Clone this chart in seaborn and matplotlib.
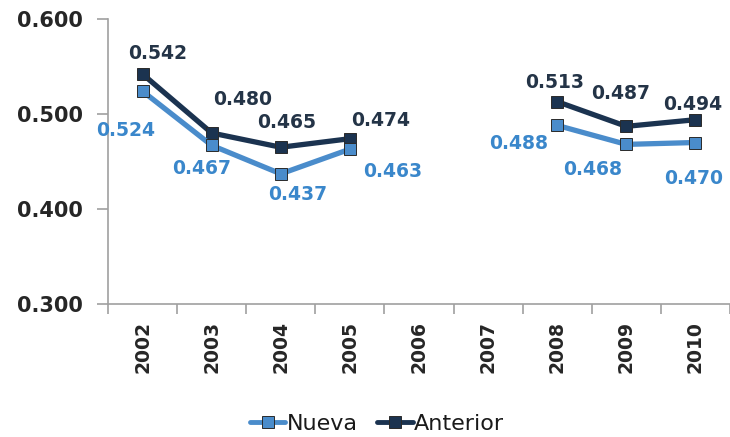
import numpy as np
import pandas as pd
import matplotlib
matplotlib.use("Agg")
import matplotlib.pyplot as plt
from matplotlib.lines import Line2D
import seaborn as sns

# datos
anios = ["2002", "2003", "2004", "2005", "2006", "2007", "2008", "2009", "2010"]
nueva = [0.524, 0.467, 0.437, 0.463, np.nan, np.nan, 0.488, 0.468, 0.470]
anterior = [0.542, 0.480, 0.465, 0.474, np.nan, np.nan, 0.513, 0.487, 0.494]
tramo = [0, 0, 0, 0, 0, 0, 1, 1, 1]

c_nueva = "#4A8CCB"
c_anterior = "#1B3350"
c_lbl_nueva = "#3A87CB"
c_lbl_anterior = "#243447"

filas = []
for i, a in enumerate(anios):
    filas.append({"pos": i, "valor": anterior[i], "serie": "Anterior", "tramo": tramo[i]})
    filas.append({"pos": i, "valor": nueva[i], "serie": "Nueva", "tramo": tramo[i]})
df = pd.DataFrame(filas).dropna()

sns.set_style("white")
plt.rcParams["font.family"] = ["DejaVu Sans"]

fig = plt.figure(figsize=(7.3, 4.37), dpi=100)
ax = fig.add_axes([108 / 730, 1 - 304 / 437, (730 - 108) / 730, (304 - 19) / 437])

sns.lineplot(data=df, x="pos", y="valor", hue="serie", units="tramo", estimator=None,
             palette={"Nueva": c_nueva, "Anterior": c_anterior},
             hue_order=["Anterior", "Nueva"], marker="s", markersize=8,
             markeredgecolor="#2a2a2a", markeredgewidth=0.7,
             linewidth=3.8, legend=False, ax=ax, zorder=3)

# etiquetas de datos (desplazamiento en puntos)
off_ant = [(11, 15), (22, 24), (4, 18), (22, 13), None, None, (-2, 14), (-4, 24), (-2, 11)]
off_nue = [(-12, -28), (-7, -17), (12, -15), (31, -16), None, None, (-28, -13), (-24, -18), (-1, -26)]
for i in range(len(anios)):
    if not np.isnan(anterior[i]):
        ax.annotate(f"{anterior[i]:.3f}", (i, anterior[i]), xytext=off_ant[i],
                    textcoords="offset points", ha="center", va="center",
                    fontsize=13.5, fontweight="bold", color=c_lbl_anterior)
    if not np.isnan(nueva[i]):
        ax.annotate(f"{nueva[i]:.3f}", (i, nueva[i]), xytext=off_nue[i],
                    textcoords="offset points", ha="center", va="center",
                    fontsize=13.5, fontweight="bold", color=c_lbl_nueva)

ax.set_ylim(0.3, 0.6)
ax.set_yticks([0.3, 0.4, 0.5, 0.6])
ax.set_yticklabels(["0.300", "0.400", "0.500", "0.600"], fontsize=15, fontweight="bold",
                   color="#262626")
ax.set_xlim(-0.5, 8.46)
ax.set_xticks(range(len(anios)))
ax.set_xticklabels(anios, rotation=90, fontsize=13.5, fontweight="bold", color="#262626")
ax.set_xticks(np.arange(-0.5, 9, 1.0), minor=True)
ax.tick_params(axis="x", which="major", bottom=True, length=0, pad=12)
ax.tick_params(axis="x", which="minor", bottom=True, length=7, color="#A0A0A0", width=1.2)
ax.tick_params(axis="y", left=True, length=8, color="#A0A0A0", width=1.2, pad=10)
ax.set_xlabel("")
ax.set_ylabel("")

sns.despine(ax=ax)
for s in ["left", "bottom"]:
    ax.spines[s].set_color("#A0A0A0")
    ax.spines[s].set_linewidth(1.2)

handles = [Line2D([], [], color=c_nueva, marker="s", markersize=8, linewidth=3.5,
                  markeredgecolor="#2a2a2a", markeredgewidth=0.7),
           Line2D([], [], color=c_anterior, marker="s", markersize=8, linewidth=3.5,
                  markeredgecolor="#2a2a2a", markeredgewidth=0.7)]
fig.legend(handles, ["Nueva", "Anterior"], loc="center", bbox_to_anchor=(377 / 730, 1 - 424 / 437),
           ncol=2, frameon=False, handlelength=1.6, handletextpad=0.05, columnspacing=0.9,
           prop={"size": 16}, labelcolor="#1a1a1a")

fig.savefig("out.png", dpi=100)
